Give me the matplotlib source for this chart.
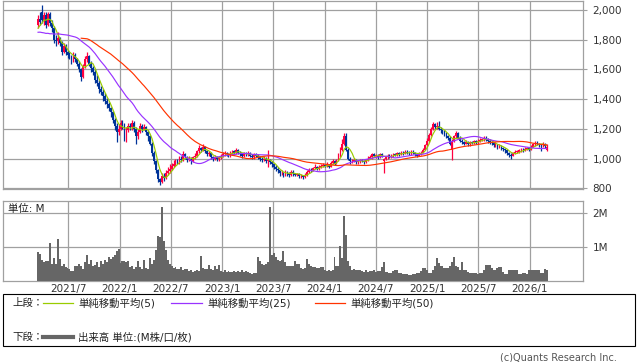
import numpy as np
import pandas as pd
import matplotlib
matplotlib.use('Agg')
import matplotlib.pyplot as plt
from matplotlib.lines import Line2D
from matplotlib.patches import Rectangle

plt.rcParams['font.family'] = ['DejaVu Sans', 'Noto Sans CJK JP']

# weekly closes before the visible window (only feed the moving averages)
pre_close = [1700, 1720, 1760, 1900, 2000, 2020, 1990, 1960, 1986, 1880,
             1840, 1800, 1790, 1800, 1780, 1794, 1740, 1760, 1770, 1750,
             1760, 1770, 1780, 1830, 1850, 1870, 1900]

start_week = '2021-03-15'

open_ = [1900, 1940, 1990, 1930, 1970, 1900, 1975, 1910, 1880, 1800,
         1790, 1810, 1780, 1720, 1760, 1720, 1700, 1690, 1660, 1700,
         1670, 1640, 1600, 1550, 1620, 1670, 1690, 1640, 1610, 1580,
         1530, 1510, 1470, 1450, 1420, 1390, 1370, 1340, 1310, 1260,
         1220, 1180, 1200, 1240, 1230, 1170, 1190, 1220, 1210, 1240,
         1200, 1150, 1180, 1220, 1200, 1210, 1180, 1150, 1100, 1040,
         980, 920, 860, 845, 880, 870, 900, 915, 930, 950,
         960, 985, 970, 1000, 990, 1030, 1010, 990, 1000, 980,
         1010, 1020, 1050, 1070, 1060, 1080, 1050, 1030, 1040, 1010,
         1000, 1010, 995, 1010, 1020, 1030, 1040, 1030, 1020, 1040,
         1050, 1040, 1060, 1040, 1030, 1020, 1035, 1030, 1040, 1020,
         1010, 1030, 1020, 1010, 1000, 990, 1000, 985, 990, 975,
         960, 945, 930, 920, 900, 905, 890, 910, 900, 890,
         910, 900, 890, 895, 880, 885, 875, 890, 910, 925,
         920, 935, 945, 930, 940, 950, 955, 950, 960, 945,
         970, 980, 965, 990, 1020, 1060, 1100, 1150, 1060, 1000,
         980, 985, 990, 975, 980, 990, 985, 975, 990, 1000,
         1010, 1030, 1020, 1020, 1010, 1030, 985, 995, 1010, 1020,
         1015, 1020, 1030, 1025, 1035, 1030, 1040, 1035, 1045, 1040,
         1035, 1045, 1040, 1030, 1020, 1035, 1040, 1060, 1090, 1120,
         1160, 1200, 1230, 1210, 1220, 1200, 1190, 1180, 1170, 1150,
         1140, 1060, 1120, 1150, 1170, 1140, 1120, 1110, 1100, 1110,
         1095, 1110, 1105, 1115, 1110, 1120, 1125, 1130, 1140, 1130,
         1120, 1110, 1105, 1090, 1095, 1080, 1085, 1070, 1065, 1055,
         1040, 1025, 1020, 1035, 1045, 1045, 1055, 1060, 1055, 1065,
         1070, 1060, 1080, 1095, 1105, 1100, 1095, 1090, 1100, 1055]

high = [1965, 1990, 2035, 1990, 1985, 1990, 1985, 1930, 1890, 1830,
        1850, 1820, 1790, 1780, 1770, 1730, 1720, 1700, 1720, 1710,
        1680, 1660, 1610, 1640, 1690, 1720, 1700, 1660, 1620, 1600,
        1560, 1530, 1490, 1470, 1440, 1410, 1380, 1350, 1320, 1270,
        1240, 1230, 1260, 1260, 1240, 1210, 1240, 1240, 1260, 1250,
        1210, 1200, 1240, 1230, 1230, 1220, 1190, 1160, 1110, 1050,
        990, 930, 870, 900, 900, 920, 940, 960, 970, 990,
        1000, 1000, 1020, 1020, 1050, 1040, 1020, 1020, 1010, 1020,
        1040, 1060, 1090, 1080, 1095, 1085, 1060, 1050, 1045, 1020,
        1025, 1015, 1020, 1030, 1045, 1050, 1045, 1035, 1050, 1060,
        1055, 1070, 1065, 1050, 1040, 1045, 1045, 1050, 1045, 1030,
        1040, 1040, 1030, 1020, 1010, 1015, 1010, 1055, 995, 980,
        965, 955, 940, 925, 920, 910, 925, 915, 910, 925,
        920, 905, 905, 900, 895, 890, 900, 920, 935, 935,
        945, 960, 950, 955, 965, 970, 965, 975, 965, 985,
        995, 990, 1000, 1035, 1080, 1130, 1175, 1175, 1070, 1010,
        1000, 1005, 995, 990, 1000, 1000, 990, 1000, 1015, 1025,
        1040, 1040, 1030, 1030, 1040, 1035, 1005, 1020, 1030, 1030,
        1030, 1040, 1040, 1045, 1045, 1050, 1050, 1055, 1055, 1050,
        1055, 1055, 1045, 1035, 1045, 1050, 1070, 1100, 1135, 1175,
        1215, 1245, 1240, 1245, 1250, 1210, 1200, 1195, 1180, 1160,
        1150, 1130, 1160, 1185, 1180, 1150, 1130, 1120, 1125, 1120,
        1120, 1120, 1125, 1125, 1130, 1135, 1140, 1150, 1150, 1140,
        1130, 1120, 1110, 1110, 1100, 1095, 1090, 1080, 1070, 1060,
        1045, 1035, 1045, 1055, 1055, 1065, 1070, 1070, 1075, 1080,
        1075, 1090, 1105, 1115, 1115, 1105, 1100, 1110, 1105, 1100]

low = [1880, 1900, 1910, 1900, 1880, 1890, 1890, 1850, 1780, 1760,
       1770, 1760, 1700, 1710, 1700, 1680, 1670, 1640, 1650, 1650,
       1620, 1580, 1520, 1540, 1610, 1650, 1620, 1580, 1560, 1510,
       1490, 1440, 1430, 1390, 1370, 1340, 1320, 1280, 1240, 1190,
       1110, 1160, 1190, 1200, 1120, 1110, 1180, 1190, 1190, 1180,
       1100, 1130, 1170, 1180, 1190, 1160, 1120, 1090, 1020, 960,
       900, 840, 820, 835, 850, 860, 890, 900, 920, 940,
       950, 960, 960, 975, 980, 1000, 975, 980, 965, 975,
       1000, 1010, 1040, 1045, 1050, 1040, 1020, 1020, 1000, 985,
       990, 985, 985, 1000, 1010, 1020, 1020, 1010, 1010, 1030,
       1025, 1030, 1030, 1020, 1005, 1010, 1020, 1020, 1010, 1000,
       1000, 1010, 995, 985, 975, 980, 970, 945, 965, 945,
       930, 915, 900, 885, 890, 875, 885, 885, 875, 885,
       885, 880, 880, 870, 870, 865, 870, 885, 905, 910,
       915, 930, 920, 925, 935, 945, 940, 945, 935, 940,
       960, 955, 960, 985, 1010, 1050, 1090, 1050, 990, 965,
       970, 975, 960, 965, 970, 975, 965, 970, 985, 995,
       1000, 1010, 1005, 1000, 1005, 1010, 905, 990, 1000, 1005,
       1005, 1010, 1015, 1020, 1020, 1025, 1025, 1030, 1030, 1025,
       1025, 1030, 1020, 1010, 1015, 1025, 1035, 1055, 1085, 1110,
       1150, 1190, 1200, 1200, 1190, 1175, 1165, 1150, 1135, 1125,
       1090, 990, 1110, 1140, 1130, 1110, 1095, 1090, 1095, 1085,
       1085, 1095, 1095, 1100, 1100, 1110, 1115, 1120, 1120, 1105,
       1095, 1090, 1075, 1080, 1065, 1070, 1055, 1050, 1040, 1025,
       1010, 1000, 1015, 1030, 1035, 1040, 1045, 1045, 1050, 1055,
       1050, 1055, 1075, 1085, 1090, 1080, 1050, 1080, 1070, 1048]

close = [1940, 1920, 1930, 1970, 1900, 1975, 1910, 1880, 1800, 1790,
         1810, 1780, 1720, 1760, 1720, 1700, 1690, 1660, 1700, 1670,
         1640, 1600, 1550, 1620, 1670, 1690, 1640, 1610, 1580, 1530,
         1510, 1470, 1450, 1420, 1390, 1370, 1340, 1310, 1260, 1220,
         1180, 1200, 1240, 1230, 1170, 1190, 1220, 1210, 1240, 1200,
         1150, 1180, 1220, 1200, 1210, 1180, 1150, 1100, 1040, 980,
         920, 860, 845, 880, 870, 900, 915, 930, 950, 960,
         985, 970, 1000, 990, 1030, 1010, 990, 1000, 980, 1010,
         1020, 1050, 1070, 1060, 1080, 1050, 1030, 1040, 1010, 1000,
         1010, 995, 1010, 1020, 1030, 1040, 1030, 1020, 1040, 1050,
         1040, 1060, 1040, 1030, 1020, 1035, 1030, 1040, 1020, 1010,
         1030, 1020, 1010, 1000, 990, 1000, 985, 1000, 975, 960,
         945, 930, 920, 900, 905, 890, 910, 900, 890, 910,
         900, 890, 895, 880, 885, 875, 890, 910, 925, 920,
         935, 945, 930, 940, 950, 955, 950, 960, 945, 970,
         980, 965, 990, 1020, 1060, 1100, 1150, 1060, 1000, 980,
         985, 990, 975, 980, 990, 985, 975, 990, 1000, 1010,
         1030, 1020, 1020, 1010, 1030, 1020, 995, 1010, 1020, 1015,
         1020, 1030, 1025, 1035, 1030, 1040, 1035, 1045, 1040, 1035,
         1045, 1040, 1030, 1020, 1035, 1040, 1060, 1090, 1120, 1160,
         1200, 1230, 1210, 1220, 1200, 1190, 1180, 1170, 1150, 1140,
         1100, 1120, 1150, 1170, 1140, 1120, 1110, 1100, 1110, 1095,
         1110, 1105, 1115, 1110, 1120, 1125, 1130, 1140, 1130, 1120,
         1110, 1105, 1090, 1095, 1080, 1085, 1070, 1065, 1055, 1040,
         1025, 1020, 1035, 1045, 1045, 1055, 1060, 1055, 1065, 1070,
         1060, 1080, 1095, 1105, 1100, 1095, 1090, 1100, 1085, 1080]

# volume in millions of shares
volume = [0.87, 0.80, 0.63, 0.55, 0.58, 0.60, 1.12, 0.50, 0.68, 0.50,
          1.24, 0.66, 0.43, 0.50, 0.40, 0.38, 0.35, 0.29, 0.30, 0.45,
          0.43, 0.50, 0.45, 0.35, 0.55, 0.77, 0.50, 0.62, 0.45, 0.48,
          0.55, 0.40, 0.60, 0.50, 0.62, 0.55, 0.72, 0.65, 0.72, 0.78,
          0.88, 0.93, 0.53, 0.58, 0.58, 0.55, 0.60, 0.42, 0.45, 0.36,
          0.40, 0.58, 0.40, 0.35, 0.63, 0.38, 0.35, 0.68, 0.50, 0.62,
          0.92, 1.34, 1.30, 2.19, 1.19, 0.92, 0.63, 0.50, 0.43, 0.38,
          0.42, 0.36, 0.35, 0.40, 0.33, 0.36, 0.34, 0.30, 0.31, 0.28,
          0.30, 0.32, 0.30, 0.73, 0.38, 0.34, 0.36, 0.48, 0.35, 0.33,
          0.43, 0.36, 0.48, 0.30, 0.28, 0.33, 0.26, 0.30, 0.28, 0.27,
          0.29, 0.26, 0.30, 0.27, 0.31, 0.28, 0.30, 0.27, 0.24, 0.22,
          0.23, 0.25, 0.71, 0.60, 0.50, 0.48, 0.50, 0.55, 2.19, 0.77,
          0.82, 0.70, 0.63, 0.60, 0.63, 0.89, 0.55, 0.43, 0.43, 0.45,
          0.45, 0.60, 0.50, 0.49, 0.37, 0.36, 0.38, 0.66, 0.49, 0.43,
          0.40, 0.40, 0.39, 0.39, 0.42, 0.42, 0.31, 0.30, 0.32, 0.30,
          0.31, 0.70, 0.43, 0.45, 1.04, 0.68, 1.93, 1.36, 0.60, 0.43,
          0.33, 0.35, 0.31, 0.33, 0.31, 0.30, 0.28, 0.31, 0.28, 0.30,
          0.29, 0.31, 0.28, 0.30, 0.29, 0.40, 0.55, 0.28, 0.28, 0.25,
          0.25, 0.30, 0.31, 0.31, 0.25, 0.25, 0.21, 0.21, 0.21, 0.19,
          0.19, 0.21, 0.21, 0.25, 0.25, 0.30, 0.38, 0.38, 0.33, 0.25,
          0.25, 0.33, 0.45, 0.68, 0.53, 0.43, 0.43, 0.38, 0.38, 0.38,
          0.45, 0.55, 0.70, 0.43, 0.40, 0.31, 0.55, 0.33, 0.33, 0.28,
          0.23, 0.23, 0.23, 0.23, 0.21, 0.25, 0.25, 0.31, 0.46, 0.46,
          0.46, 0.38, 0.33, 0.33, 0.38, 0.41, 0.41, 0.28, 0.21, 0.21,
          0.33, 0.33, 0.33, 0.33, 0.31, 0.21, 0.21, 0.25, 0.25, 0.21,
          0.33, 0.33, 0.31, 0.31, 0.31, 0.31, 0.25, 0.25, 0.36, 0.33]

ma_windows = [5, 25, 50]
ma_colors = ['#99cc00', '#9933ff', '#ff3300']
ma_labels = ['単純移動平均(5)', '単純移動平均(25)', '単純移動平均(50)']

grid_dates = ['2021-07-01', '2022-01-01', '2022-07-01', '2023-01-01', '2023-07-01',
              '2024-01-01', '2024-07-01', '2025-01-01', '2025-07-01', '2026-01-01']
grid_labels = ['2021/7', '2022/1', '2022/7', '2023/1', '2023/7',
               '2024/1', '2024/7', '2025/1', '2025/7', '2026/1']
price_ticks = [800, 1000, 1200, 1400, 1600, 1800, 2000]
vol_ticks = [1, 2]
vol_tick_labels = ['1M', '2M']

UP = '#ff0040'
DOWN = '#003399'
GRID = '#a0a0a0'
TXT = '#333333'

W, H = 638, 362
fig = plt.figure(figsize=(W / 100, H / 100), dpi=100)


def box(x0, y0, x1, y1):
    # pixel box (top-left origin) -> figure rect
    return [x0 / W, 1 - y1 / H, (x1 - x0) / W, (y1 - y0) / H]


ax = fig.add_axes(box(3, 1, 583, 188.5))
axv = fig.add_axes(box(3, 201, 583, 281))

dates = pd.date_range(start_week, periods=len(close), freq='7D')
o = np.array(open_, float)
c = np.array(close, float)
hi = np.array(high, float)
lo = np.array(low, float)
cols = np.where(c >= o, UP, DOWN)

# candles
ax.vlines(dates, lo, hi, colors=cols, lw=0.9, zorder=3)
ax.bar(dates, np.maximum(np.abs(c - o), 5), bottom=np.minimum(o, c),
       width=6.3, color=cols, linewidth=0, zorder=3)

# moving averages
all_close = pd.Series(pre_close + close, dtype=float)
n_pre = len(pre_close)
for win, col in zip(ma_windows, ma_colors):
    ma = all_close.rolling(win).mean().iloc[n_pre:].values
    ax.plot(dates, ma, color=col, lw=0.85, zorder=4)

xlim = (pd.Timestamp('2020-11-10'), pd.Timestamp('2026-07-10'))
gd = pd.to_datetime(grid_dates)

for a in (ax, axv):
    a.set_xlim(*xlim)
    a.set_xticks(gd)
    a.grid(True, color=GRID, lw=0.9)
    a.set_axisbelow(True)
    for s in a.spines.values():
        s.set_color(GRID)
        s.set_linewidth(0.9)
    a.yaxis.tick_right()
    a.tick_params(axis='y', length=3, width=0.8, color=GRID, pad=4,
                  labelsize=7.5, labelcolor=TXT)

ax.set_ylim(798, 2061)
ax.set_yticks(price_ticks)
ax.set_yticklabels([f'{v:,}' for v in price_ticks])
ax.tick_params(axis='x', length=0, labelbottom=False)

# volume
axv.bar(dates, volume, width=7, color='#666666', linewidth=0, zorder=3)
axv.set_ylim(0, 2.36)
axv.set_yticks(vol_ticks)
axv.set_yticklabels(vol_tick_labels)
axv.set_xticklabels(grid_labels)
axv.tick_params(axis='x', length=0, pad=2, labelsize=7.5, labelcolor=TXT)

fig.text(8 / W, 1 - 209 / H, '単位: M', fontsize=7.5, color='#222222', va='center')

# legend panel
fig.add_artist(Rectangle((3 / W, 1 - 346 / H), 632 / W, 52 / H,
                         transform=fig.transFigure, fill=False, ec='black', lw=0.8))
ly1 = 1 - 303 / H
ly2 = 1 - 337 / H
fig.text(12 / W, ly1, '上段：', fontsize=7.5, color='#222222', va='center')
fig.text(12 / W, ly2, '下段：', fontsize=7.5, color='#222222', va='center')
for (x0, x1, tx), col, lab in zip([(43, 73, 78), (171, 202, 207), (315, 345, 350)],
                                  ma_colors, ma_labels):
    fig.add_artist(Line2D([x0 / W, x1 / W], [ly1, ly1], color=col, lw=0.9,
                          transform=fig.transFigure))
    fig.text(tx / W, ly1, lab, fontsize=7.5, color='#222222', va='center')
fig.add_artist(Line2D([43 / W, 73 / W], [ly2, ly2], color='#666666', lw=3,
                      transform=fig.transFigure))
fig.text(78 / W, ly2, '出来高 単位:(M株/口/枚)', fontsize=7.5, color='#222222', va='center')

fig.text(617 / W, 1 - 357 / H, '(c)Quants Research Inc.', fontsize=7,
         color='#555555', ha='right', va='center')

fig.savefig('out.png', dpi=100)
